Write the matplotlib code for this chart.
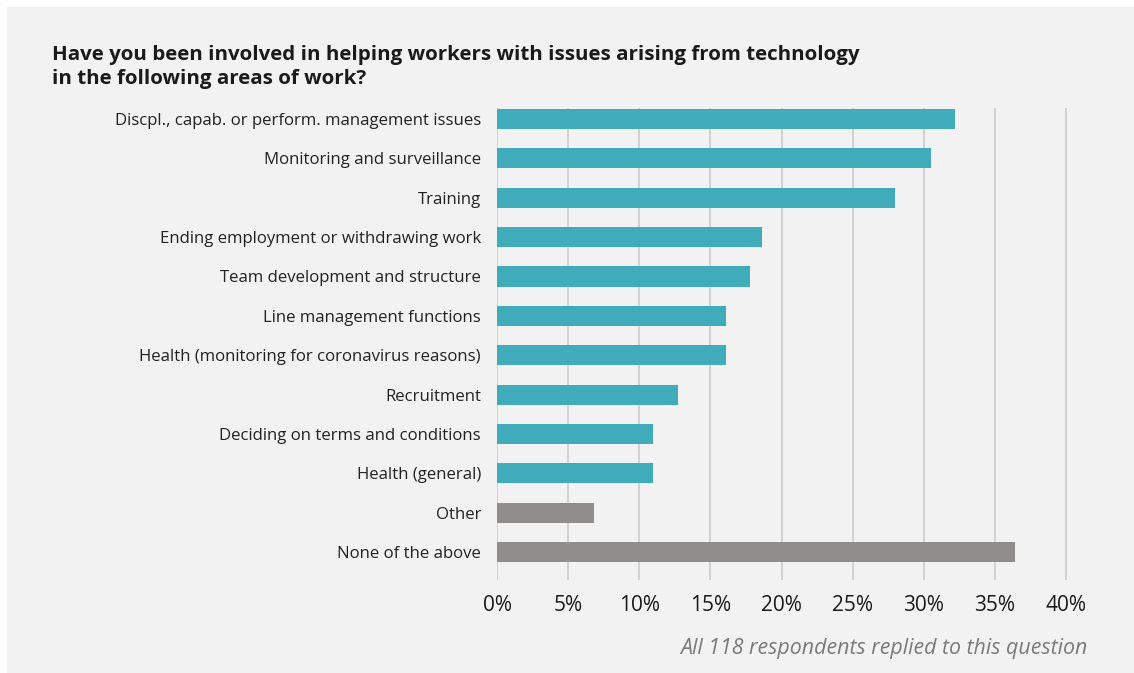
import matplotlib
matplotlib.use('Agg')
import matplotlib.pyplot as plt
from matplotlib.patches import Rectangle

## share of the 118 respondents per area of work (%)
categories = [
    'Discpl., capab. or perform. management issues',
    'Monitoring and surveillance',
    'Training',
    'Ending employment or withdrawing work',
    'Team development and structure',
    'Line management functions',
    'Health (monitoring for coronavirus reasons)',
    'Recruitment',
    'Deciding on terms and conditions',
    'Health (general)',
    'Other',
    'None of the above',
]
percent = [32.2, 30.5, 28.0, 18.6, 17.8, 16.1, 16.1, 12.7, 11.0, 11.0, 6.8, 36.4]
is_area = [True] * 10 + [False] * 2
ticks = [0, 5, 10, 15, 20, 25, 30, 35, 40]
title_lines = [
    'Have you been involved in helping workers with issues arising from technology',
    'in the following areas of work?',
]

TEAL = '#40abbb'
GREY = '#8f8e8a'
BG = '#f2f2f2'

plt.rcParams['font.family'] = ['Open Sans', 'DejaVu Sans']

fig = plt.figure(figsize=(11.34, 6.73), dpi=100)
fig.patch.set_facecolor('white')
fig.patches.append(Rectangle((7 / 1134, 0), 1, 1 - 7 / 673,
                             transform=fig.transFigure, facecolor=BG,
                             edgecolor='none', zorder=-10))

ax = fig.add_axes([497 / 1134, 1 - 580 / 673, (1067 - 497) / 1134, (580 - 108) / 673])
ax.set_facecolor('none')

ypos = list(range(len(categories)))
colors = [TEAL if a else GREY for a in is_area]
ax.barh(ypos, percent, height=0.51, color=colors, zorder=3)

ax.set_ylim(len(categories) - 0.29, -0.28)
ax.set_xlim(0, 40.07)
ax.set_yticks(ypos)
ax.set_yticklabels(categories, fontsize=12.1, color='#222222')
ax.set_xticks(ticks)
ax.set_xticklabels([f'{t}%' for t in ticks], fontsize=15, color='#1a1a1a')
ax.tick_params(axis='y', length=0, pad=11.5)
ax.tick_params(axis='x', length=0, pad=11)
ax.grid(axis='x', color='#cfcfcf', linewidth=1.3, zorder=0)
for s in ax.spines.values():
    s.set_visible(False)

# two-line bold title, baselines 24 px apart
for i, line in enumerate(title_lines):
    fig.text(52 / 1134, 1 - (60 + 24 * i) / 673, line,
             fontsize=14.75, fontweight='bold', color='#1a1a1a',
             va='baseline', ha='left')
fig.text(1088 / 1134, 1 - 654 / 673, 'All 118 respondents replied to this question',
         fontsize=15.4, style='italic', color='#7a7a7a', ha='right', va='baseline')

fig.savefig('out.png', dpi=100, facecolor=fig.get_facecolor())
